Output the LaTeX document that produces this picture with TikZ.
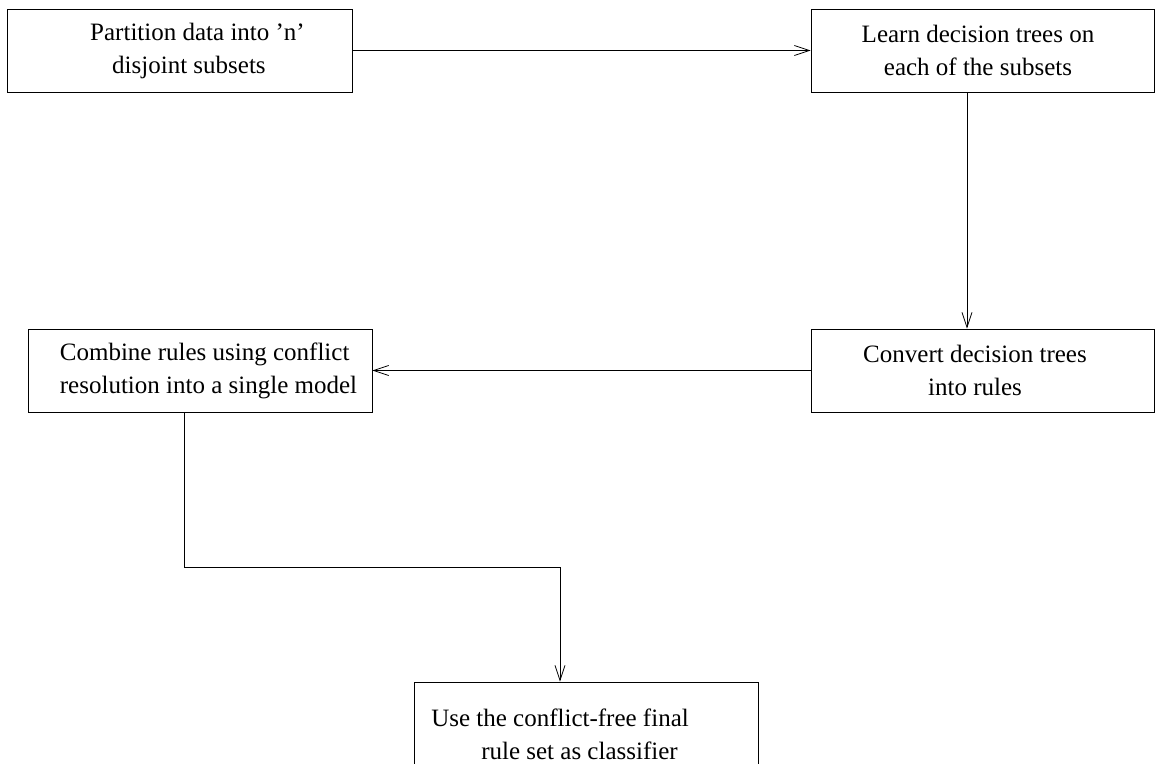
\documentclass[tikz,border=0pt]{standalone}
\usepackage{fontspec}
\setmainfont{Liberation Serif}
\usepackage{tikz}
\usetikzlibrary{arrows.meta,positioning}

\begin{document}
\begin{tikzpicture}[
    x=1pt, y=-1pt,
    stepbox/.style={rectangle, draw, line width=0.8pt,
        minimum width=344pt, minimum height=83pt, inner sep=0pt},
    steptext/.style={font=\fontsize{25}{33}\selectfont, inner sep=0pt},
    arr/.style={-{Straight Barb[length=15pt, width=10pt]}, line width=0.8pt}
]
    \useasboundingbox (0,0) rectangle (1155,763);

    % Top row
    \node[stepbox, minimum width=345pt] (part) at (179.5,50.5) {};
    \node[steptext, align=left] (part-txt) at (197.5,50.5)
        {Partition data into 'n'\\\hspace*{22pt}disjoint subsets};
    \node[stepbox, minimum width=343pt] (learn) at (982.5,50.5) {};
    \node[steptext, align=center] (learn-txt) at (978,50.5)
        {Learn decision trees on\\each of the subsets};
    \draw[arr] (part) -- (learn);

    % Middle row
    \node[stepbox, minimum width=343pt] (conv) at (982.5,370.5) {};
    \node[steptext, align=center] (conv-txt) at (975,370.5)
        {Convert decision trees\\into rules};
    \node[stepbox] (comb) at (200,370.5) {};
    \node[steptext, align=left] (comb-txt) at (208.5,370.5)
        {Combine rules using conflict\\resolution into a single model};
    \draw[arr] ([xshift=-15.5pt]learn.south) -- ([xshift=-15.5pt]conv.north);
    \draw[arr] (conv) -- (comb);

    % Bottom box
    \node[stepbox, minimum height=103pt] (use) at (586,733.5) {};
    \node[steptext, align=left] (use-txt) at (560,734)
        {Use the conflict-free final\\\hspace*{50pt}rule set as classifier};
    \draw[arr] ([xshift=-16pt]comb.south) -- ++(0,155) -| ([xshift=-26pt]use.north);
\end{tikzpicture}
\end{document}
